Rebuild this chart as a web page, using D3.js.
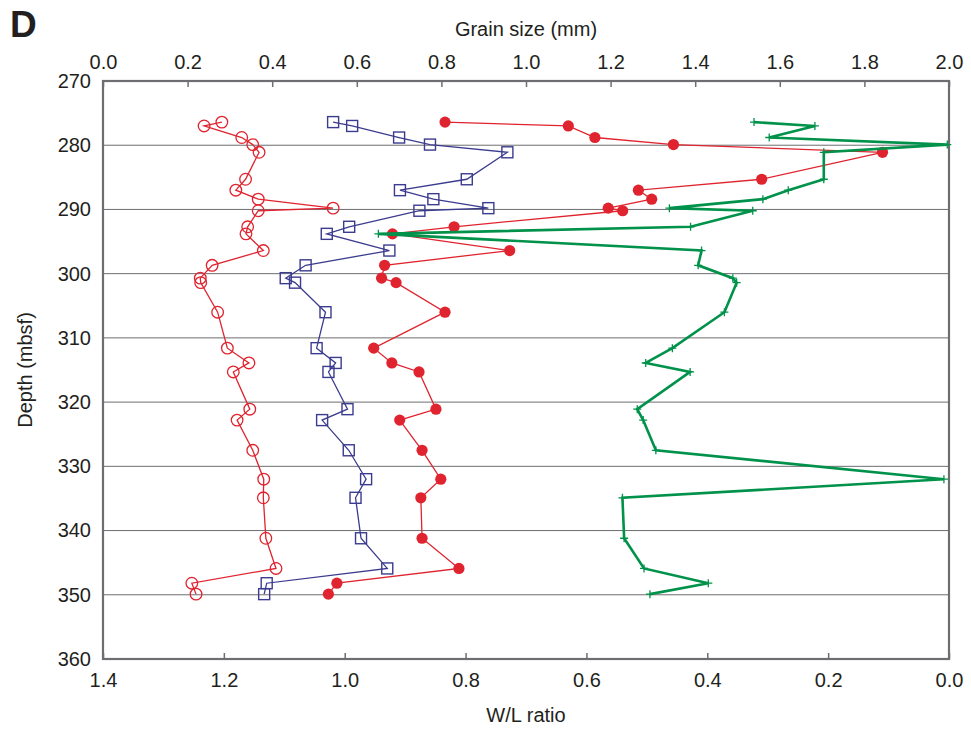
<!DOCTYPE html>
<meta charset="utf-8">
<style>
    body { margin: 0; background: #fff; }
    svg { font-family: "Liberation Sans", Arial, sans-serif; }
    .tick text { font-size: 20px; fill: #231f20; }
    .label { font-size: 20px; fill: #231f20; }
    .domain { display: none; }
</style>
<svg width="971" height="730"></svg>
<script src="https://cdn.jsdelivr.net/npm/d3@7"></script>
<script>
    // sample depths (mbsf), shared by all four series
    var depths = [276.4, 277.0, 278.8, 279.9, 281.1, 285.3, 287.0, 288.4, 289.8, 290.2,
        292.7, 293.8, 296.4, 298.7, 300.7, 301.4, 306.0, 311.6, 313.9, 315.3,
        321.1, 322.8, 327.5, 332.0, 334.9, 341.2, 345.9, 348.2, 349.9];

    // grain size (mm), top axis
    var openCircles = [0.281, 0.239, 0.328, 0.354, 0.369, 0.337, 0.314, 0.367, 0.544, 0.367,
        0.342, 0.338, 0.379, 0.258, 0.230, 0.231, 0.271, 0.294, 0.345, 0.308,
        0.347, 0.317, 0.354, 0.380, 0.379, 0.385, 0.409, 0.210, 0.220];
    var squares = [0.544, 0.589, 0.700, 0.773, 0.956, 0.860, 0.702, 0.781, 0.911, 0.748,
        0.582, 0.529, 0.677, 0.479, 0.432, 0.454, 0.526, 0.505, 0.550, 0.533,
        0.578, 0.518, 0.581, 0.622, 0.597, 0.610, 0.672, 0.387, 0.381];
    var greenPlus = [1.539, 1.683, 1.575, 1.996, 1.704, 1.704, 1.620, 1.560, 1.339, 1.536,
        1.389, 0.651, 1.415, 1.407, 1.489, 1.498, 1.469, 1.346, 1.283, 1.388,
        1.263, 1.277, 1.307, 1.988, 1.228, 1.232, 1.279, 1.431, 1.293];

    // W/L ratio, bottom axis
    var filledCircles = [0.834, 0.630, 0.586, 0.456, 0.110, 0.310, 0.514, 0.492, 0.564, 0.540,
        0.819, 0.921, 0.727, 0.934, 0.939, 0.915, 0.834, 0.952, 0.922, 0.877,
        0.849, 0.909, 0.872, 0.841, 0.874, 0.872, 0.811, 1.013, 1.027];

    var grainTicks = [0, 0.2, 0.4, 0.6, 0.8, 1.0, 1.2, 1.4, 1.6, 1.8, 2.0];
    var ratioTicks = [1.4, 1.2, 1.0, 0.8, 0.6, 0.4, 0.2, 0.0];
    var depthTicks = [270, 280, 290, 300, 310, 320, 330, 340, 350, 360];

    var svg = d3.select("svg"),
        pl = 103, pr = 949, pt = 81, pb = 659;

    var x = d3.scaleLinear().domain([0, 2]).range([pl, pr]),
        xr = d3.scaleLinear().domain([1.4, 0]).range([pl, pr]),
        y = d3.scaleLinear().domain([270, 360]).range([pt, pb]);

    // gridlines
    svg.append("g").selectAll("line")
        .data(depthTicks.slice(1, -1))
        .enter().append("line")
        .attr("x1", pl).attr("x2", pr)
        .attr("y1", function(d) { return y(d); })
        .attr("y2", function(d) { return y(d); })
        .attr("stroke", "#6d6e71").attr("stroke-width", 1);

    // axes
    svg.append("g").attr("transform", "translate(0," + pt + ")")
        .call(d3.axisTop(x).tickValues(grainTicks).tickFormat(d3.format(".1f")).tickSizeInner(-6).tickPadding(12));
    svg.append("g").attr("transform", "translate(0," + pb + ")")
        .call(d3.axisBottom(xr).tickValues(ratioTicks).tickFormat(d3.format(".1f")).tickSizeInner(-6).tickPadding(14));
    svg.append("g").attr("transform", "translate(" + pl + ",0)")
        .call(d3.axisLeft(y).tickValues(depthTicks).tickSize(0).tickPadding(12));
    svg.selectAll(".tick line").attr("stroke", "#6d6e71").attr("stroke-width", 1.5);

    // frame
    svg.append("rect")
        .attr("x", pl).attr("y", pt)
        .attr("width", pr - pl).attr("height", pb - pt)
        .attr("fill", "none").attr("stroke", "#6d6e71").attr("stroke-width", 2.2);

    function line(vals, sc) {
        return d3.line()
            .x(function(d) { return sc(d); })
            .y(function(d, i) { return y(depths[i]); })(vals);
    }

    var red = "#e0242f", blue = "#3b3b8f", green = "#00924a";

    // open circles
    svg.append("path").attr("d", line(openCircles, x))
        .attr("fill", "none").attr("stroke", red).attr("stroke-width", 1.3);
    svg.append("g").selectAll("circle").data(openCircles).enter().append("circle")
        .attr("cx", function(d) { return x(d); })
        .attr("cy", function(d, i) { return y(depths[i]); })
        .attr("r", 5.8).attr("fill", "none").attr("stroke", red).attr("stroke-width", 1.3);

    // squares
    svg.append("path").attr("d", line(squares, x))
        .attr("fill", "none").attr("stroke", blue).attr("stroke-width", 1.3);
    svg.append("g").selectAll("rect").data(squares).enter().append("rect")
        .attr("x", function(d) { return x(d) - 5.5; })
        .attr("y", function(d, i) { return y(depths[i]) - 5.5; })
        .attr("width", 11).attr("height", 11)
        .attr("fill", "none").attr("stroke", blue).attr("stroke-width", 1.4);

    // filled circles
    svg.append("path").attr("d", line(filledCircles, xr))
        .attr("fill", "none").attr("stroke", red).attr("stroke-width", 1.3);
    svg.append("g").selectAll("circle").data(filledCircles).enter().append("circle")
        .attr("cx", function(d) { return xr(d); })
        .attr("cy", function(d, i) { return y(depths[i]); })
        .attr("r", 5.6).attr("fill", red);

    // green line with plus markers
    svg.append("path").attr("d", line(greenPlus, x))
        .attr("fill", "none").attr("stroke", green).attr("stroke-width", 2.6)
        .attr("stroke-linejoin", "miter");
    svg.append("g").selectAll("path").data(greenPlus).enter().append("path")
        .attr("d", function(d, i) {
            var cx = x(d), cy = y(depths[i]);
            return "M" + (cx - 4) + "," + cy + "H" + (cx + 4) + "M" + cx + "," + (cy - 4) + "V" + (cy + 4);
        })
        .attr("stroke", green).attr("stroke-width", 1.3);

    // labels
    svg.append("text").attr("x", 10).attr("y", 37)
        .attr("font-size", 37).attr("font-weight", "bold").attr("fill", "#231f20").text("D");
    svg.append("text").attr("class", "label").attr("x", (pl + pr) / 2).attr("y", 36)
        .attr("text-anchor", "middle").text("Grain size (mm)");
    svg.append("text").attr("class", "label").attr("x", (pl + pr) / 2).attr("y", 722)
        .attr("text-anchor", "middle").text("W/L ratio");
    svg.append("text").attr("class", "label")
        .attr("transform", "translate(32," + (pt + pb) / 2 + ") rotate(-90)")
        .attr("text-anchor", "middle").text("Depth (mbsf)");
</script>
